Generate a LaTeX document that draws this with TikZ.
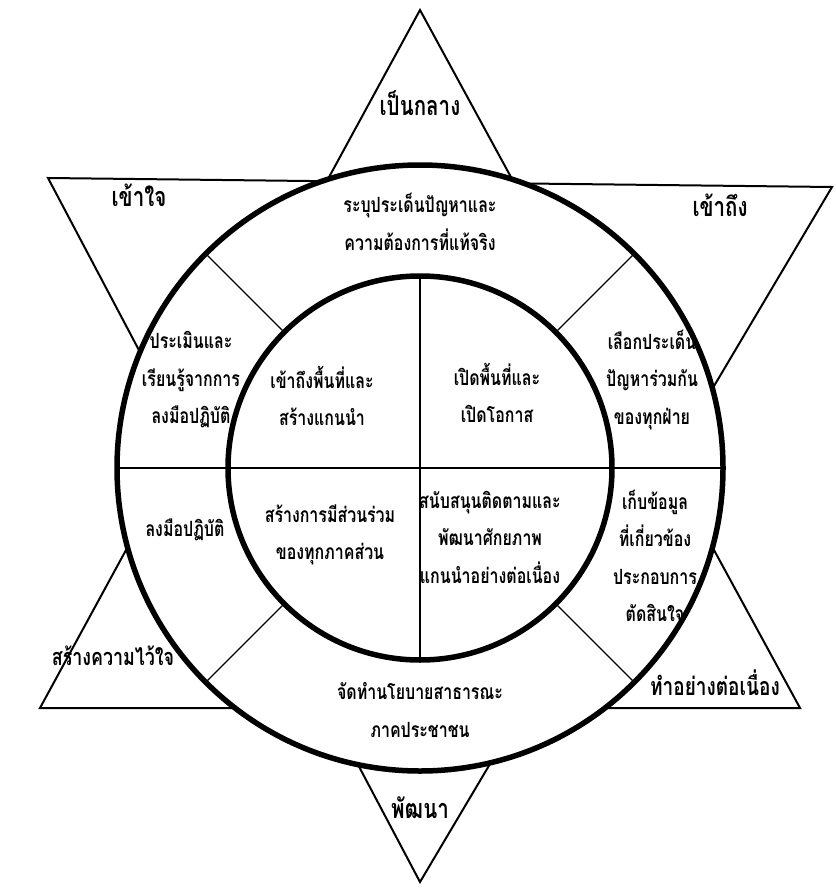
\documentclass[tikz,border=0pt]{standalone}
\usepackage{fontspec}
\usetikzlibrary{calc}
\newfontfamily\thaifont[Script=Thai,FakeStretch=0.76]{Loma}
\begin{document}
\begin{tikzpicture}[x=1pt,y=-1pt,
  tri/.style={draw=black,line width=2pt,line join=miter},
  ring/.style={draw=black,line width=5.5pt,fill=white},
  divline/.style={draw=black,line width=1.3pt},
  lbl/.style={font=\thaifont\bfseries\fontsize{21}{37.5}\selectfont,align=center,inner sep=0pt},
  big/.style={font=\thaifont\bfseries\fontsize{27}{30}\selectfont,align=center,inner sep=0pt}]
\useasboundingbox (0,0) rectangle (835,888);
\fill[white] (0,0) rectangle (835,888);
% star
\coordinate (UA) at (420,10);
\coordinate (UL) at (40,708);
\coordinate (UR) at (800,708);
\coordinate (DL) at (48,178);
\coordinate (DR) at (832,187);
\coordinate (DB) at (420,882);
\draw[tri] (UA) -- (UL) -- (UR) -- cycle;
\draw[tri] (DL) -- (DR) -- (DB) -- cycle;
% circles
\coordinate (C) at (420,468);
\draw[ring] (C) circle[radius=303];
\coordinate (HL) at ($(C)+(-303,0)$);
\coordinate (HR) at ($(C)+(303,0)$);
\draw[divline] (HL) -- (HR);
\foreach \a in {45,135,225,315}{
  \draw[divline] ($(C)+(\a:303)$) -- ($(C)+(\a:192)$);
}
\draw[ring] (C) circle[radius=192];
\coordinate (VT) at ($(C)+(0,-192)$);
\coordinate (VB) at ($(C)+(0,192)$);
\coordinate (IL) at ($(C)+(-192,0)$);
\coordinate (IR) at ($(C)+(192,0)$);
\draw[divline] (VT) -- (VB);
\draw[divline] (IL) -- (IR);
% star labels
\node[big] (t1) at (420,103) {เป็นกลาง};
\node[big] (t2) at (139,195) {เข้าใจ};
\node[big] (t3) at (720,205) {เข้าถึง};
\node[big,font=\thaifont\bfseries\fontsize{23.5}{26}\selectfont] (t4) at (113,656) {สร้างความไว้ใจ};
\node[big,font=\thaifont\bfseries\fontsize{25}{28}\selectfont] (t5) at (715,683) {ทำอย่างต่อเนื่อง};
\node[big] (t6) at (420,808) {พัฒนา};
% ring labels
\node[lbl] (r1) at (420,222) {ระบุประเด็นปัญหาและ\\ความต้องการที่แท้จริง};
\node[lbl] (r2) at (191,380) {ประเมินและ\\เรียนรู้จากการ\\ลงมือปฏิบัติ};
\node[lbl] (r3) at (652,380) {เลือกประเด็น\\ปัญหาร่วมกัน\\ของทุกฝ่าย};
\node[lbl] (r4) at (185,530) {ลงมือปฏิบัติ};
\node[lbl] (r5) at (655,556) {เก็บข้อมูล\\ที่เกี่ยวข้อง\\ประกอบการ\\ตัดสินใจ};
\node[lbl] (r6) at (420,710) {จัดทำนโยบายสาธารณะ\\ภาคประชาชน};
% inner labels
\node[lbl] (i1) at (322,396) {เข้าถึงพื้นที่และ\\สร้างแกนนำ};
\node[lbl] (i2) at (497,393) {เปิดพื้นที่และ\\เปิดโอกาส};
\node[lbl] (i3) at (330,535) {สร้างการมีส่วนร่วม\\ของทุกภาคส่วน};
\node[lbl] (i4) at (490,537) {สนับสนุนติดตามและ\\พัฒนาศักยภาพ\\แกนนำอย่างต่อเนื่อง};
\end{tikzpicture}
\end{document}
